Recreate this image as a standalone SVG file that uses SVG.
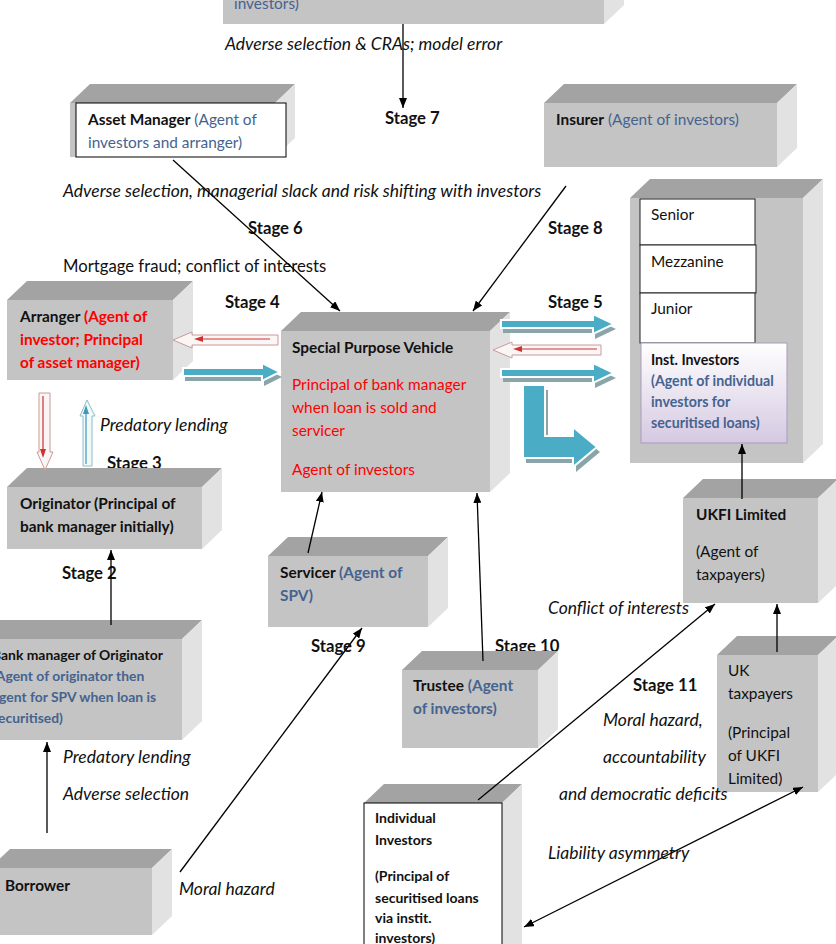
<svg xmlns="http://www.w3.org/2000/svg" width="836" height="944" viewBox="0 0 836 944">
<defs>
<style>
.f{fill:#c4c4c4}.t{fill:#a3a3a3}.s{fill:#e2e2e2}
text{font-family:Lato,"Liberation Sans",sans-serif;font-size:15.4px;fill:#111}
.b{font-weight:bold}.i{font-style:italic;font-size:17.5px}.bl{fill:#45638f}.rd{fill:#ff0000}
.st{font-weight:bold;font-size:16.7px}.lg{font-size:16.7px}
.sm{font-size:13.9px}.xs{font-size:14px}.ii{font-size:14.2px}
.ln{stroke:#000;stroke-width:1.3;fill:none}
.bA{fill:#4bacc6;stroke:#fff;stroke-width:2}
.bS{fill:#8aa5aa}
.pR{fill:#fbf6f6;stroke:#c99a9a;stroke-width:1}
.pB{fill:#f3f8f9;stroke:#8fbccb;stroke-width:1}
</style>
<marker id="ah" markerWidth="10" markerHeight="8" refX="10" refY="4" orient="auto-start-reverse" markerUnits="userSpaceOnUse">
<path d="M0,0 L10,4 L0,8 Z" fill="#000"/>
</marker>
<linearGradient id="lav" x1="0" y1="0" x2="0" y2="1">
<stop offset="0" stop-color="#ffffff"/><stop offset="1" stop-color="#d5c9e2"/>
</linearGradient>
</defs>

<!-- texts that are partly covered by boxes -->
<text x="107" y="469" class="st">Stage 3</text>
<text x="495" y="652" class="st">Stage 10</text>

<g id="top-box">
<rect class="f" x="223" y="-60" width="381" height="84"/>
<polygon class="s" points="604,-60 624,-79 624,5 604,24"/>
<text x="234" y="9" class="bl">investors)</text>
</g>

<g id="asset-manager">
<polygon class="t" points="70,103 90,84 295,84 275,103"/>
<polygon class="s" points="275,103 295,84 295,138 275,157"/>
<rect class="f" x="70" y="103" width="205" height="54"/>
<rect x="76" y="103" width="210" height="54" fill="#fff" stroke="#000" stroke-width="1"/>
<text x="88" y="125"><tspan class="b">Asset Manager</tspan><tspan class="bl"> (Agent of</tspan></text>
<text x="88" y="148" class="bl">investors and arranger)</text>
</g>

<g id="insurer">
<polygon class="t" points="544,103 564,84 797,84 777,103"/>
<polygon class="s" points="777,103 797,84 797,148 777,167"/>
<rect class="f" x="544" y="103" width="233" height="64"/>
<text x="556" y="125"><tspan class="b">Insurer</tspan><tspan class="bl"> (Agent of investors)</tspan></text>
</g>

<g id="investors">
<polygon class="t" points="630,198 650,179 823,179 803,198"/>
<polygon class="s" points="803,198 823,179 823,444 803,463"/>
<rect class="f" x="630" y="198" width="173" height="265"/>
<rect x="640" y="199" width="115" height="46" fill="#fff" stroke="#222"/>
<rect x="640" y="245" width="116" height="48" fill="#fff" stroke="#222"/>
<rect x="640" y="293" width="115" height="50" fill="#fff" stroke="#222"/>
<text x="651" y="220">Senior</text>
<text x="651" y="267">Mezzanine</text>
<text x="651" y="314">Junior</text>
<rect x="641" y="343" width="146" height="100" fill="url(#lav)" stroke="#a99bbd"/>
<text x="651" y="365" class="b ii">Inst. Investors</text>
<text x="651" y="386" class="b ii bl">(Agent of individual</text>
<text x="651" y="407" class="b ii bl">investors for</text>
<text x="651" y="428" class="b ii bl">securitised loans)</text>
</g>

<g id="arranger">
<polygon class="t" points="7,300 27,281 193,281 173,300"/>
<polygon class="s" points="173,300 193,281 193,361 173,380"/>
<rect class="f" x="7" y="300" width="166" height="80"/>
<text x="20" y="322" class="b"><tspan>Arranger </tspan><tspan class="rd">(Agent of</tspan></text>
<text x="20" y="345" class="b rd">investor; Principal</text>
<text x="20" y="368" class="b rd">of asset manager)</text>
</g>

<g id="spv">
<polygon class="t" points="281,331 301,312 510,312 490,331"/>
<polygon class="s" points="490,331 510,312 510,473 490,492"/>
<rect class="f" x="281" y="331" width="209" height="161"/>
<text x="292" y="353" class="b">Special Purpose Vehicle</text>
<text x="292" y="390" class="rd">Principal of bank manager</text>
<text x="292" y="413" class="rd">when loan is sold and</text>
<text x="292" y="436" class="rd">servicer</text>
<text x="292" y="475" class="rd">Agent of investors</text>
</g>

<g id="originator">
<polygon class="t" points="7,487 27,468 222,468 202,487"/>
<polygon class="s" points="202,487 222,468 222,530 202,549"/>
<rect class="f" x="7" y="487" width="195" height="62"/>
<text x="20" y="509" class="b">Originator (Principal of</text>
<text x="20" y="532" class="b">bank manager initially)</text>
</g>

<g id="bank-manager">
<polygon class="t" points="-20,639 0,620 202,620 182,639"/>
<polygon class="s" points="182,639 202,620 202,721 182,740"/>
<rect class="f" x="-20" y="639" width="202" height="101"/>
<text x="-8" y="660" class="b sm">Bank manager of Originator</text>
<text x="-8" y="681" class="b sm bl">(Agent of originator then</text>
<text x="-8" y="702" class="b sm bl">agent for SPV when loan is</text>
<text x="-8" y="723" class="b sm bl">securitised)</text>
</g>

<g id="borrower">
<polygon class="t" points="-10,868 10,849 172,849 152,868"/>
<polygon class="s" points="152,868 172,849 172,916 152,935"/>
<rect class="f" x="-10" y="868" width="162" height="67"/>
<text x="5" y="891" class="b">Borrower</text>
</g>

<g id="servicer">
<polygon class="t" points="268,556 288,537 448,537 428,556"/>
<polygon class="s" points="428,556 448,537 448,608 428,627"/>
<rect class="f" x="268" y="556" width="160" height="71"/>
<text x="280" y="578" class="b"><tspan>Servicer </tspan><tspan class="bl">(Agent of</tspan></text>
<text x="280" y="601" class="b bl">SPV)</text>
</g>

<g id="trustee">
<polygon class="t" points="402,670 422,651 558,651 538,670"/>
<polygon class="s" points="538,670 558,651 558,729 538,748"/>
<rect class="f" x="402" y="670" width="136" height="78"/>
<text x="413" y="691" class="b"><tspan>Trustee </tspan><tspan class="bl">(Agent</tspan></text>
<text x="413" y="714" class="b bl">of investors)</text>
</g>

<g id="ukfi">
<polygon class="t" points="683,498 703,479 838,479 818,498"/>
<polygon class="s" points="818,498 838,479 838,584 818,603"/>
<rect class="f" x="683" y="498" width="135" height="105"/>
<text x="696" y="520" class="b">UKFI Limited</text>
<text x="696" y="557">(Agent of</text>
<text x="696" y="580">taxpayers)</text>
</g>

<g id="uk-taxpayers">
<polygon class="t" points="717,655 737,636 838,636 818,655"/>
<polygon class="s" points="818,655 838,636 838,773 818,792"/>
<rect class="f" x="717" y="655" width="101" height="137"/>
<text x="728" y="676">UK</text>
<text x="728" y="699">taxpayers</text>
<text x="728" y="738">(Principal</text>
<text x="728" y="761">of UKFI</text>
<text x="728" y="784">Limited)</text>
</g>

<g id="individual-investors">
<polygon class="t" points="364,803 384,784 522,784 502,803"/>
<polygon class="s" points="502,803 522,784 522,950 502,950"/>
<rect x="364" y="803" width="138" height="150" fill="#fff" stroke="#000"/>
<text x="375" y="823" class="b xs">Individual</text>
<text x="375" y="845" class="b xs">Investors</text>
<text x="375" y="881" class="b xs">(Principal of</text>
<text x="375" y="903" class="b xs">securitised loans</text>
<text x="375" y="923" class="b xs">via instit.</text>
<text x="375" y="943" class="b xs">investors)</text>
</g>

<!-- free labels -->
<g id="labels">
<text x="225" y="50" class="i">Adverse selection &amp; CRAs; model error</text>
<text x="385" y="124" class="st">Stage 7</text>
<text x="63" y="197" class="i">Adverse selection, managerial slack and risk shifting with investors</text>
<text x="248" y="234" class="st">Stage 6</text>
<text x="548" y="234" class="st">Stage 8</text>
<text x="63" y="272" class="lg">Mortgage fraud; conflict of interests</text>
<text x="225" y="308" class="st">Stage 4</text>
<text x="548" y="308" class="st">Stage 5</text>
<text x="100" y="431" class="i">Predatory lending</text>
<text x="62" y="579" class="st">Stage 2</text>
<text x="311" y="652" class="st">Stage 9</text>
<text x="548" y="614" class="i">Conflict of interests</text>
<text x="633" y="691" class="st">Stage 11</text>
<text x="603" y="726" class="i">Moral hazard,</text>
<text x="603" y="763" class="i">accountability</text>
<text x="559" y="800" class="i">and democratic deficits</text>
<text x="63" y="763" class="i">Predatory lending</text>
<text x="63" y="800" class="i">Adverse selection</text>
<text x="179" y="895" class="i">Moral hazard</text>
<text x="548" y="859" class="i">Liability asymmetry</text>
</g>

<g id="connectors">
<line class="ln" x1="403" y1="24" x2="403" y2="108" marker-end="url(#ah)"/>
<line class="ln" x1="173" y1="160" x2="340" y2="311" marker-end="url(#ah)"/>
<line class="ln" x1="566" y1="186" x2="473" y2="311" marker-end="url(#ah)"/>
<line class="ln" x1="308" y1="553" x2="322" y2="492" marker-end="url(#ah)"/>
<line class="ln" x1="483" y1="661" x2="477" y2="493" marker-end="url(#ah)"/>
<line class="ln" x1="180" y1="872" x2="362" y2="628" marker-end="url(#ah)"/>
<line class="ln" x1="47" y1="833" x2="47" y2="742" marker-end="url(#ah)"/>
<line class="ln" x1="111" y1="625" x2="111" y2="550" marker-end="url(#ah)"/>
<line class="ln" x1="478" y1="800" x2="715" y2="604" marker-end="url(#ah)"/>
<line class="ln" x1="803" y1="787" x2="524" y2="927" marker-start="url(#ah)" marker-end="url(#ah)"/>
<line class="ln" x1="777" y1="652" x2="777" y2="604" marker-end="url(#ah)"/>
<line class="ln" x1="742" y1="499" x2="742" y2="444" marker-end="url(#ah)"/>

<!-- block arrows -->
<polygon class="bS" points="185,373 264,373 264,368 282,377 264,386 264,381 185,381"/>
<polygon class="bA" points="183,368 262,368 262,363 280,372 262,381 262,376 183,376"/>

<polygon class="bS" points="503,325 595,325 595,319 616,329 595,339 595,333 503,333"/>
<polygon class="bA" points="501,320 593,320 593,314 614,324 593,334 593,328 501,328"/>
<polygon class="bS" points="503,374 595,374 595,368 616,378 595,388 595,382 503,382"/>
<polygon class="bA" points="501,369 593,369 593,363 614,373 593,383 593,377 501,377"/>
<polygon class="bS" points="526,390 548,390 548,441 576,441 576,432 600,452 576,472 576,463 526,463"/>
<polygon class="bA" points="523,385 545,385 545,436 573,436 573,427 597,447 573,467 573,458 523,458"/>

<polygon class="pR" points="173,340 192,332 192,335 278,335 278,345 192,345 192,348"/>
<line x1="270" y1="339" x2="201" y2="339" stroke="#d03030" stroke-width="1.2"/>
<polygon points="194,339 203,336 203,342" fill="#d03030"/>

<polygon class="pR" points="493,350 512,342 512,345 601,345 601,355 512,355 512,358"/>
<line x1="597" y1="349" x2="520" y2="349" stroke="#d03030" stroke-width="1.2"/>
<polygon points="513,349 522,346 522,352" fill="#d03030"/>

<polygon class="pR" points="39,393 50,393 50,452 53,452 45,470 37,452 39,452"/>
<line x1="43" y1="396" x2="43" y2="450" stroke="#d03030" stroke-width="1.2"/>
<polygon points="43,458 40,449 46,449" fill="#d03030"/>

<polygon class="pB" points="87,400 95,416 92,416 92,466 83,466 83,416 80,416"/>
<line x1="86" y1="464" x2="86" y2="413" stroke="#3a9bbb" stroke-width="1.2"/>
<polygon points="86,405 83,414 89,414" fill="#3a9bbb"/>
</g>
</svg>
